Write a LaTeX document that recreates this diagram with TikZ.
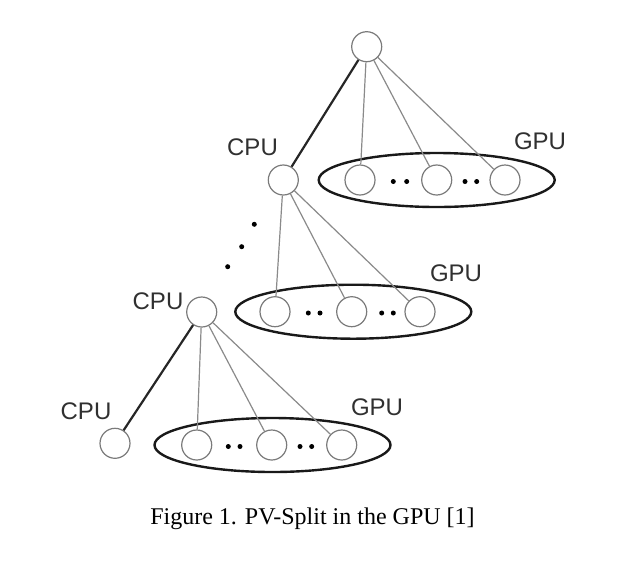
\documentclass[tikz,border=0pt]{standalone}
\usepackage{fontspec}
\setmainfont{Liberation Serif}
\newfontfamily\lblfont{Liberation Sans}
\usetikzlibrary{shapes.geometric}
\definecolor{nodegray}{HTML}{7A7A7A}
\definecolor{edgegray}{HTML}{8A8A8A}
\definecolor{txtgray}{HTML}{303030}
\begin{document}
\begin{tikzpicture}[x=1pt,y=-1pt,
  vert/.style={circle,draw=nodegray,line width=1.2pt,minimum size=30pt,inner sep=0pt,fill=white},
  grp/.style={ellipse,draw=black!90,line width=2.4pt,minimum width=236pt,minimum height=54pt,inner sep=0pt},
  thin/.style={draw=edgegray,line width=1.2pt},
  thick/.style={draw=black!85,line width=2.2pt},
  lbl/.style={font=\lblfont\fontsize{24}{24}\selectfont,text=txtgray,inner sep=0pt},
  dotm/.style={circle,fill=black,inner sep=0pt,minimum size=5pt},
  ddot/.style={circle,fill=black,inner sep=0pt,minimum size=5pt}]
\useasboundingbox (0,0) rectangle (642,574);
% level 1
\node[vert] (top) at (366.7,46.7) {};
\node[vert] (cpuA) at (283.3,180) {};
\node[grp] (ellA) at (436.7,180) {};
\node[vert] (gA1) at (360,180) {};
\node[vert] (gA2) at (436.7,180) {};
\node[vert] (gA3) at (505,180) {};
\node[dotm] (dA1) at (393.3,181.5) {};
\node[dotm] (dA2) at (406.7,181.5) {};
\node[dotm] (dA3) at (465,181.5) {};
\node[dotm] (dA4) at (476.7,181.5) {};
\node[lbl] (lcpuA) at (252.5,147.5) {CPU};
\node[lbl] (lgpuA) at (540,141.7) {GPU};
% vertical dots
\node[ddot] (v1) at (254.3,224.3) {};
\node[ddot] (v2) at (241.7,246.7) {};
\node[ddot] (v3) at (227.7,266.7) {};
% level 2
\node[vert] (cpuB) at (201.7,312) {};
\node[grp] (ellB) at (353.3,311.7) {};
\node[vert] (gB1) at (275,311.7) {};
\node[vert] (gB2) at (351.7,311.7) {};
\node[vert] (gB3) at (420,311.7) {};
\node[dotm] (dB1) at (308.3,313) {};
\node[dotm] (dB2) at (320,313) {};
\node[dotm] (dB3) at (381.7,313) {};
\node[dotm] (dB4) at (393.3,313) {};
\node[lbl] (lcpuB) at (158,301.7) {CPU};
\node[lbl] (lgpuB) at (456,273.3) {GPU};
% level 3
\node[vert] (cpuC) at (115,443.3) {};
\node[grp] (ellC) at (272.5,445) {};
\node[vert] (gC1) at (196.7,445) {};
\node[vert] (gC2) at (271.7,445) {};
\node[vert] (gC3) at (341.7,445) {};
\node[dotm] (dC1) at (228.3,446.5) {};
\node[dotm] (dC2) at (240,446.5) {};
\node[dotm] (dC3) at (300,446.5) {};
\node[dotm] (dC4) at (311.7,446.5) {};
\node[lbl] (lcpuC) at (86,411.7) {CPU};
\node[lbl] (lgpuC) at (377,407) {GPU};
% edges
\draw[thick] (top) -- (cpuA);
\draw[thin] (top) -- (gA1);
\draw[thin] (top) -- (gA2);
\draw[thin] (top) -- (gA3);
\draw[thin] (cpuA) -- (gB1);
\draw[thin] (cpuA) -- (gB2);
\draw[thin] (cpuA) -- (gB3);
\draw[thick] (cpuB) -- (cpuC);
\draw[thin] (cpuB) -- (gC1);
\draw[thin] (cpuB) -- (gC2);
\draw[thin] (cpuB) -- (gC3);
% caption
\node[font=\fontsize{24}{24}\selectfont,inner sep=0pt] (cap) at (312.5,519) {Figure 1. PV-Split in the GPU [1]};
\end{tikzpicture}
\end{document}
